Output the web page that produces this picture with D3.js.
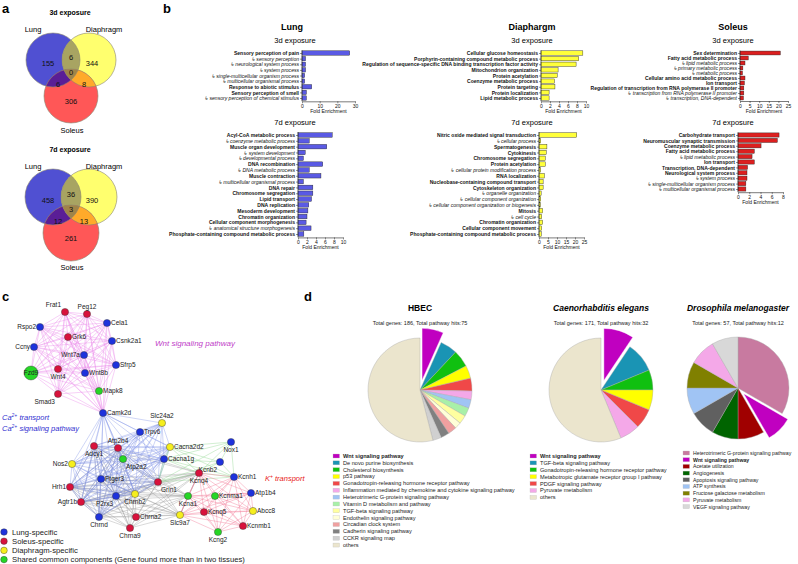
<!DOCTYPE html>
<html>
<head>
<meta charset="utf-8">
<script src="https://cdn.jsdelivr.net/npm/d3@7"></script>
<style>
  body { margin: 0; background: #fff; }
  svg { font-family: "Liberation Sans", Arial, sans-serif; }
</style>
</head>
<body>
<svg id="fig" width="798" height="564"></svg>
<script>
// ---------- data ----------
// venn counts: Lung only, Diaphragm only, Soleus only, L&D, L&S, D&S, all three
const venn3d = [155, 344, 306, 6, 6, 8, 0];
const venn7d = [458, 390, 261, 36, 12, 13, 3];

// GO enrichment (child terms start with ↳)
const lung3dLabels = ["Sensory perception of pain", "↳ sensory perception", "↳ neurological system process", "↳ system process",
  "↳ single-multicellular organism process", "↳ multicellular organismal process", "Response to abiotic stimulus",
  "Sensory perception of smell", "↳ sensory perception of chemical stimulus"];
const lung3dValues = [27, 2, 2, 2, 1.5, 1.5, 5.5, 2.5, 2.5];
const lung3dTicks = [0, 10, 20, 30];

const lung7dLabels = ["Acyl-CoA metabolic process", "↳ coenzyme metabolic process", "Muscle organ development",
  "↳ system development", "↳ developmental process", "DNA recombination", "↳ DNA metabolic process",
  "Muscle contraction", "↳ multicellular organismal process", "DNA repair", "Chromosome segregation",
  "Lipid transport", "DNA replication", "Mesoderm development", "Chromatin organization",
  "Cellular component morphogenesis", "↳ anatomical structure morphogenesis",
  "Phosphate-containing compound metabolic process"];
const lung7dValues = [7.6, 2.5, 6.4, 1.6, 1.2, 5.5, 2.5, 5.1, 1.2, 3.3, 3.3, 3.0, 2.4, 2.2, 2.0, 1.8, 2.9, 1.3];
const lung7dTicks = [0, 2, 4, 6, 8, 10];

const dia3dLabels = ["Cellular glucose homeostasis", "Porphyrin-containing compound metabolic process",
  "Regulation of sequence-specific DNA binding transcription factor activity", "Mitochondrion organization",
  "Protein acetylation", "Coenzyme metabolic process", "Protein targeting", "Protein localization",
  "Lipid metabolic process"];
const dia3dValues = [9.3, 8.4, 7.8, 3.8, 3.6, 3.0, 3.1, 1.8, 1.8];
const dia3dTicks = [0, 2, 4, 6, 8, 10];

const dia7dLabels = ["Nitric oxide mediated signal transduction", "↳ cellular process", "Spermatogenesis", "Cytokinesis",
  "Chromosome segregation", "Protein acetylation", "↳ cellular protein modification process", "RNA localization",
  "Nucleobase-containing compound transport", "Cytoskeleton organization", "↳ organelle organization",
  "↳ cellular component organization", "↳ cellular component organization or biogenesis", "Mitosis",
  "↳ cell cycle", "Chromatin organization", "Cellular component movement",
  "Phosphate-containing compound metabolic process"];
const dia7dValues = [21, 1, 4.4, 4, 3.5, 3.5, 1, 3, 2.3, 2.3, 1.2, 1, 0.8, 2, 1.5, 2, 1.5, 1.3];
const dia7dTicks = [0, 5, 10, 15, 20, 25];

const sol3dLabels = ["Sex determination", "Fatty acid metabolic process", "↳ lipid metabolic process",
  "↳ primary metabolic process", "↳ metabolic process", "Cellular amino acid metabolic process", "Ion transport",
  "Regulation of transcription from RNA polymerase II promoter", "↳ transcription from RNA polymerase II promoter",
  "↳ transcription, DNA-dependent"];
const sol3dValues = [21, 4.3, 2.6, 1.5, 1.3, 2.6, 2.3, 2, 2, 1.8];
const sol3dTicks = [0, 5, 10, 15, 20, 25];

const sol7dLabels = ["Carbohydrate transport", "Neuromuscular synaptic transmission", "Coenzyme metabolic process",
  "Fatty acid metabolic process", "↳ lipid metabolic process", "Ion transport", "Transcription, DNA-dependent",
  "Neurological system process", "↳ system process", "↳ single-multicellular organism process",
  "↳ multicellular organismal process"];
const sol7dValues = [7.3, 7.0, 4.1, 2.9, 2.5, 2.9, 1.7, 1.6, 1.6, 1.4, 1.4];
const sol7dTicks = [0, 2, 4, 6, 8];

// network: name, type (L lung, S soleus, D diaphragm, C shared), layout x, layout y, label side
const netNodes = [
  ["Frat1","S",65,312,"tl"],["Peg12","S",87,314,"t"],["Rspo2","L",40,327,"l"],["Cela1","L",107,323,"r"],
  ["Grk6","S",68,337,"r"],["Csnk2a1","L",112,341,"r"],["Ccny","L",34,347,"l"],["Wnt7a","L",84,355,"l"],
  ["Sfrp5","L",116,365,"r"],["Fzd9","C",31,373,"c"],["Wnt4","S",58,369,"b"],["Wnt8b","L",85,373,"r"],
  ["Mapk8","C",99,391,"r"],["Smad3","S",58,394,"bl"],["Camk2d","L",103,413,"r"],["Slc24a2","D",162,423,"t"],
  ["Trpv6","L",140,432,"r"],["Atp2b4","S",118,448,"t"],["Adcy1","S",94,446,"b"],["Cacna2d2","D",170,447,"r"],
  ["Nox1","L",231,442,"b"],["Atp2a2","C",123,459,"br"],["Cacna1g","L",164,459,"r"],["Nos2","D",72,464,"l"],
  ["Kcnb2","L",220,462,"bl"],["Kcnq4","S",199,473,"b"],["Kcnh1","L",234,477,"r"],["Hrh1","S",70,487,"l"],
  ["Ptger3","L",101,479,"r"],["Grin1","S",158,482,"br"],["Atp1b4","L",251,493,"r"],["Kcna1","C",188,496,"b"],
  ["Kcnma1","C",215,496,"r"],["P2rx3","L",116,496,"bl"],["Chrnb2","D",135,494,"b"],["Agtr1b","S",81,502,"l"],
  ["Abcc8","D",253,511,"r"],["Kcnq5","S",204,512,"r"],["Chrnd","L",99,517,"b"],["Chrna2","S",136,517,"r"],
  ["Slc9a7","D",180,515,"b"],["Kcnmb1","S",243,526,"r"],["Chrna9","S",130,528,"b"],["Kcng2","C",218,532,"b"]
];
const wntGroup = ["Frat1","Peg12","Rspo2","Cela1","Grk6","Csnk2a1","Ccny","Wnt7a","Sfrp5","Fzd9","Wnt4","Wnt8b","Mapk8","Smad3","Camk2d"];
const caGroup = ["Camk2d","Slc24a2","Trpv6","Atp2b4","Adcy1","Cacna2d2","Atp2a2","Cacna1g","Nos2","Hrh1","Ptger3","Agtr1b","P2rx3","Chrnb2","Chrnd","Grin1"];
const neuroGroup = ["Hrh1","Agtr1b","Ptger3","P2rx3","Chrnb2","Chrnd","Chrna2","Chrna9","Grin1","Slc9a7","Kcna1","Adcy1","Atp2b4","Kcnq4"];
const kGroup = ["Kcnq4","Kcnh1","Atp1b4","Kcna1","Kcnma1","Abcc8","Kcnq5","Kcnmb1","Kcng2","Slc9a7"];
const oxGroup = ["Cacna2d2","Nox1","Kcnb2","Kcnh1","Cacna1g","Kcnq4","Grin1"];
const netLegend = ["Lung-specific","Soleus-specific","Diaphragm-specific","Shared common components (Gene found more than in two tissues)"];

// pathway pies
const hbecLabels = ["Wnt signaling pathway","De novo purine biosynthesis","Cholesterol biosynthesis","p53 pathway",
  "Gonadotropin-releasing hormone receptor pathway","Inflammation mediated by chemokine and cytokine signaling pathway",
  "Heterotrimeric G-protein signaling pathway","Vitamin D metabolism and pathway","TGF-beta signaling pathway",
  "Endothelin signaling pathway","Circadian clock system","Cadherin signaling pathway","CCKR signaling map","others"];
const hbecValues = [5, 4, 4, 3, 3, 2, 2, 2, 2, 1.5, 2, 2, 2, 40.5];
const hbecColors = ["#c000c0","#1a94b4","#10c010","#ffff00","#f04848","#f4a8e8","#a0c4f4","#a8f0a8","#ffffa0",
  "#ffffd8","#f0a0a0","#808080","#d0d0d0","#ebe5cd"];

const celLabels = ["Wnt signaling pathway","TGF-beta signaling pathway","Gonadotropin-releasing hormone receptor pathway",
  "Metabotropic glutamate receptor group I pathway","PDGF signaling pathway","Pyruvate metabolism","others"];
const celValues = [3, 3, 2, 2, 2, 2, 18];
const celColors = ["#c000c0","#1a94b4","#10c010","#ffff00","#f04848","#f4a8e8","#ebe5cd"];

const droLabels = ["Heterotrimeric G-protein signaling pathway","Wnt signaling pathway","Acetate utilization","Angiogenesis",
  "Apoptosis signaling pathway","ATP synthesis","Fructose galactose metabolism","Pyruvate metabolism","VEGF signaling pathway"];
const droValues = [4, 1, 1, 1, 1, 1, 1, 1, 1];
const droColors = ["#c87aa0","#c000c0","#a00000","#006400","#606060","#a0c4f4","#808000","#f4a8e8","#d8d8d8"];

// ---------- drawing ----------
const svg = d3.select("#fig");

// panel letters
[["a", 2, 13], ["b", 163, 13], ["c", 2, 301], ["d", 304, 301]].forEach(p => {
  svg.append("text").attr("x", p[1]).attr("y", p[2]).attr("font-size", 13).attr("font-weight", "bold").text(p[0]);
});

// ---- a: venn ----
let clipId = 0;
function drawVenn(counts, title, cx, cy, r) {
  const g = svg.append("g");
  const c = { L: [cx - 18, cy], D: [cx + 18, cy], S: [cx, cy + 36] };
  const defs = svg.append("defs");
  const ids = {};
  Object.keys(c).forEach(k => {
    ids[k] = "clip" + (clipId++);
    defs.append("clipPath").attr("id", ids[k]).append("circle").attr("cx", c[k][0]).attr("cy", c[k][1]).attr("r", r);
  });
  const circ = (parent, k, fill) => parent.append("circle").attr("cx", c[k][0]).attr("cy", c[k][1]).attr("r", r).attr("fill", fill);
  circ(g, "L", "#5050d2");
  circ(g, "D", "#ffff6e");
  circ(g, "S", "#ff5757");
  circ(g.append("g").attr("clip-path", `url(#${ids.L})`), "D", "#a8a462");
  circ(g.append("g").attr("clip-path", `url(#${ids.L})`), "S", "#5a1e96");
  circ(g.append("g").attr("clip-path", `url(#${ids.D})`), "S", "#ffaa2a");
  circ(g.append("g").attr("clip-path", `url(#${ids.L})`).append("g").attr("clip-path", `url(#${ids.D})`), "S", "#a08448");
  ["L", "D", "S"].forEach(k => g.append("circle").attr("cx", c[k][0]).attr("cy", c[k][1]).attr("r", r)
    .attr("fill", "none").attr("stroke", "#8a8470").attr("stroke-width", 0.6));

  const pos = [[cx - 23, cy + 3], [cx + 21, cy + 3], [cx, cy + 41], [cx, cy - 3], [cx - 13, cy + 24], [cx + 13, cy + 24], [cx, cy + 12]];
  g.selectAll("text.n").data(counts).join("text").attr("class", "n")
    .attr("x", (d, i) => pos[i][0]).attr("y", (d, i) => pos[i][1]).attr("dy", "0.35em")
    .attr("text-anchor", "middle").attr("font-size", 7.5).attr("fill", "#111").text(d => d);

  g.append("text").attr("x", cx - 1).attr("y", cy - 45).attr("text-anchor", "middle")
    .attr("font-size", 7).attr("font-weight", "bold").text(title);
  g.append("text").attr("x", cx - 38).attr("y", cy - 28).attr("text-anchor", "middle").attr("font-size", 7.5).text("Lung");
  g.append("text").attr("x", cx + 33).attr("y", cy - 28).attr("text-anchor", "middle").attr("font-size", 7.5).text("Diaphragm");
  g.append("text").attr("x", cx + 1).attr("y", cy + 73).attr("text-anchor", "middle").attr("font-size", 7.5).text("Soleus");
}
drawVenn(venn3d, "3d exposure", 71, 60, 27);
drawVenn(venn7d, "7d exposure", 71, 197, 28);

// ---- b: bar charts ----
const barCharts = [
  { labels: lung3dLabels, values: lung3dValues, ticks: lung3dTicks, x0: 302, x1: 355, y0: 53, y1: 98, fill: "#5a5ae4" },
  { labels: lung7dLabels, values: lung7dValues, ticks: lung7dTicks, x0: 298, x1: 343, y0: 135, y1: 234, fill: "#5a5ae4" },
  { labels: dia3dLabels, values: dia3dValues, ticks: dia3dTicks, x0: 541, x1: 586, y0: 53, y1: 98, fill: "#ffff3a" },
  { labels: dia7dLabels, values: dia7dValues, ticks: dia7dTicks, x0: 539, x1: 584, y0: 135, y1: 234, fill: "#ffff3a" },
  { labels: sol3dLabels, values: sol3dValues, ticks: sol3dTicks, x0: 740, x1: 788, y0: 53, y1: 98, fill: "#dc1f1f" },
  { labels: sol7dLabels, values: sol7dValues, ticks: sol7dTicks, x0: 738, x1: 783, y0: 135, y1: 189, fill: "#dc1f1f" }
];

barCharts.forEach(ch => {
  const g = svg.append("g");
  const n = ch.labels.length;
  const step = (ch.y1 - ch.y0) / (n - 1);
  const y = d3.scalePoint().domain(ch.labels).range([ch.y0, ch.y1]);
  const x = d3.scaleLinear().domain([0, d3.max(ch.ticks)]).range([ch.x0, ch.x1]);
  const bh = step * 0.78;

  g.selectAll("rect").data(ch.labels).join("rect")
    .attr("x", x(0)).attr("y", d => y(d) - bh / 2)
    .attr("width", (d, i) => x(ch.values[i]) - x(0)).attr("height", bh)
    .attr("fill", ch.fill).attr("stroke", "#222").attr("stroke-width", 0.4);

  const yAx = g.append("g").attr("transform", `translate(${ch.x0},0)`)
    .call(d3.axisLeft(y).tickSize(2).tickPadding(1).tickSizeOuter(0));
  yAx.select(".domain").remove();
  yAx.selectAll("line").attr("stroke", "#222").attr("stroke-width", 0.5);
  yAx.selectAll("text").attr("font-size", 5.05).attr("fill", "#111")
    .attr("font-family", "'Liberation Sans', Arial, sans-serif")
    .attr("font-weight", d => d.startsWith("↳") ? "normal" : "bold")
    .attr("font-style", d => d.startsWith("↳") ? "italic" : "normal");
  const yb = ch.y1 + step / 2 + 0.5;
  g.append("line").attr("x1", ch.x0).attr("x2", ch.x0).attr("y1", ch.y0 - step / 2).attr("y2", yb)
    .attr("stroke", "#222").attr("stroke-width", 0.6);

  const xAx = g.append("g").attr("transform", `translate(0,${yb})`)
    .call(d3.axisBottom(x).tickValues(ch.ticks).tickSize(2).tickPadding(1).tickSizeOuter(0));
  xAx.select(".domain").attr("stroke", "#222").attr("stroke-width", 0.6);
  xAx.selectAll("line").attr("stroke", "#222").attr("stroke-width", 0.5);
  xAx.selectAll("text").attr("font-size", 5).attr("fill", "#111")
    .attr("font-family", "'Liberation Sans', Arial, sans-serif");
  g.append("text").attr("x", (ch.x0 + ch.x1) / 2).attr("y", yb + 12).attr("text-anchor", "middle")
    .attr("font-size", 5).attr("fill", "#111").text("Fold Enrichment");
});

[["Lung", 292, 295], ["Diaphargm", 532, 532], ["Soleus", 733, 733]].forEach(t => {
  svg.append("text").attr("x", t[1]).attr("y", 30).attr("text-anchor", "middle")
    .attr("font-size", 9).attr("font-weight", "bold").text(t[0]);
  svg.append("text").attr("x", t[2]).attr("y", 43).attr("text-anchor", "middle").attr("font-size", 7.5).text("3d exposure");
  svg.append("text").attr("x", t[2]).attr("y", 125).attr("text-anchor", "middle").attr("font-size", 7.5).text("7d exposure");
});

// ---- c: network ----
const nx = d3.scaleLinear().domain([0, 300]).range([0, 300]);
const ny = d3.scaleLinear().domain([290, 564]).range([290, 564]);
const typeColor = { L: "#1e32dc", S: "#d8123c", D: "#f6ee1e", C: "#26d626" };
const byName = {};
netNodes.forEach(n => byName[n[0]] = n);

const edgeG = svg.append("g").attr("fill", "none");
function linkGroup(group, color, op) {
  for (let i = 0; i < group.length; i++) {
    for (let j = i + 1; j < group.length; j++) {
      const a = byName[group[i]], b = byName[group[j]];
      edgeG.append("line").attr("x1", nx(a[2])).attr("y1", ny(a[3])).attr("x2", nx(b[2])).attr("y2", ny(b[3]))
        .attr("stroke", color).attr("stroke-width", 0.5).attr("stroke-opacity", op);
    }
  }
}
linkGroup(neuroGroup, "#9a9a9a", 0.75);
linkGroup(caGroup, "#7f92e6", 0.75);
linkGroup(oxGroup, "#8fd88f", 0.8);
linkGroup(kGroup, "#f27896", 0.8);
linkGroup(wntGroup, "#ea8cea", 0.8);

const nodeG = svg.append("g");
netNodes.forEach(n => {
  const r = n[4] === "c" ? 7 : 3.6;
  nodeG.append("circle").attr("cx", nx(n[2])).attr("cy", ny(n[3])).attr("r", r)
    .attr("fill", typeColor[n[1]]).attr("stroke", "#333").attr("stroke-width", 0.4);
  let lx = nx(n[2]), ly = ny(n[3]), anchor = "middle";
  switch (n[4]) {
    case "r": lx += 4; ly += 2; anchor = "start"; break;
    case "l": lx -= 4; ly += 2; anchor = "end"; break;
    case "t": ly -= 5.5; break;
    case "tl": lx -= 4; ly -= 5.5; anchor = "end"; break;
    case "b": ly += 10; break;
    case "bl": lx -= 3; ly += 10; anchor = "end"; break;
    case "br": lx += 3; ly += 10; anchor = "start"; break;
    case "c": ly += 2; break;
  }
  nodeG.append("text").attr("x", lx).attr("y", ly).attr("text-anchor", anchor)
    .attr("font-size", 6.5).attr("fill", "#222").text(n[0]);
});

svg.append("text").attr("x", 155).attr("y", 346).attr("font-size", 8).attr("font-style", "italic")
  .attr("fill", "#c040c8").text("Wnt signaling pathway");
const ca1 = svg.append("text").attr("x", 2).attr("y", 420).attr("font-size", 7.5).attr("font-style", "italic").attr("fill", "#3030d0");
ca1.append("tspan").text("Ca");
ca1.append("tspan").attr("dy", -3).attr("font-size", 5).text("2+");
ca1.append("tspan").attr("dy", 3).text(" transport");
const ca2 = svg.append("text").attr("x", 2).attr("y", 431).attr("font-size", 7.5).attr("font-style", "italic").attr("fill", "#3030d0");
ca2.append("tspan").text("Ca");
ca2.append("tspan").attr("dy", -3).attr("font-size", 5).text("2+");
ca2.append("tspan").attr("dy", 3).text(" signaling pathway");
const kt = svg.append("text").attr("x", 265).attr("y", 481).attr("font-size", 7.5).attr("font-style", "italic").attr("fill", "#e82020");
kt.append("tspan").text("K");
kt.append("tspan").attr("dy", -3).attr("font-size", 5).text("+");
kt.append("tspan").attr("dy", 3).text(" transport");

const legTypes = ["L", "S", "D", "C"];
netLegend.forEach((t, i) => {
  const yy = 532 + i * 9.2;
  svg.append("circle").attr("cx", 4).attr("cy", yy).attr("r", 3.3).attr("fill", typeColor[legTypes[i]])
    .attr("stroke", "#333").attr("stroke-width", 0.4);
  svg.append("text").attr("x", 12).attr("y", yy + 2.6).attr("font-size", 7.7).attr("fill", "#222").text(t);
});

// ---- d: pies ----
const pies = [
  { title: "HBEC", italic: false, sub: "Total genes: 186, Total pathway hits:75", labels: hbecLabels, values: hbecValues,
    colors: hbecColors, cx: 420, cy: 390, r: 52, explode: 10, legX: 333, legY: 456, legStep: 6.85, legFont: 5.6 },
  { title: "Caenorhabditis elegans", italic: true, sub: "Total genes: 171, Total pathway hits:32", labels: celLabels, values: celValues,
    colors: celColors, cx: 601, cy: 390, r: 52, explode: 10, legX: 530, legY: 456, legStep: 6.9, legFont: 5.6 },
  { title: "Drosophila melanogaster", italic: true, sub: "Total genes: 57, Total pathway hits:12", labels: droLabels, values: droValues,
    colors: droColors, cx: 738, cy: 388, r: 51, explode: 8, legX: 683, legY: 453, legStep: 6.7, legFont: 5.2 }
];

pies.forEach(p => {
  const g = svg.append("g");
  g.append("text").attr("x", p.cx).attr("y", 311).attr("text-anchor", "middle").attr("font-size", 8.5)
    .attr("font-weight", "bold").attr("font-style", p.italic ? "italic" : "normal").text(p.title);
  g.append("text").attr("x", p.cx).attr("y", 325).attr("text-anchor", "middle").attr("font-size", 5.5)
    .attr("fill", "#222").text(p.sub);

  const arcs = d3.pie().sort(null).value(d => d)(p.values);
  const arc = d3.arc().innerRadius(0).outerRadius(p.r);
  const pg = g.append("g").attr("transform", `translate(${p.cx},${p.cy})`);
  pg.selectAll("path").data(arcs).join("path")
    .attr("d", arc)
    .attr("fill", (d, i) => p.colors[i])
    .attr("stroke", (d, i) => p.labels[i] === "Wnt signaling pathway" ? "#fff" : "#a8a8a8")
    .attr("stroke-width", 0.4)
    .attr("transform", (d, i) => {
      if (p.labels[i] !== "Wnt signaling pathway") return null;
      const a = (d.startAngle + d.endAngle) / 2;
      return `translate(${Math.sin(a) * p.explode},${-Math.cos(a) * p.explode})`;
    });

  p.labels.forEach((t, i) => {
    const yy = p.legY + i * p.legStep;
    g.append("rect").attr("x", p.legX).attr("y", yy - 2).attr("width", 6.5).attr("height", 4)
      .attr("fill", p.colors[i]).attr("stroke", "#bbb").attr("stroke-width", 0.3);
    g.append("text").attr("x", p.legX + 10).attr("y", yy + 1.9).attr("font-size", p.legFont).attr("fill", "#222")
      .attr("font-weight", t === "Wnt signaling pathway" ? "bold" : "normal").text(t);
  });
});
</script>
</body>
</html>
